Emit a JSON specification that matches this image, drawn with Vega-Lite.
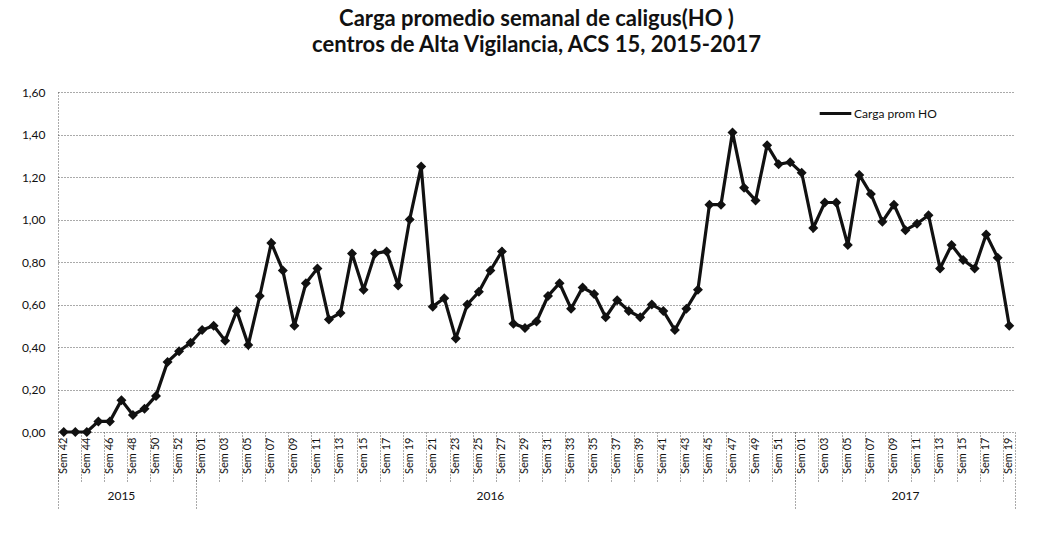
{
  "$schema": "https://vega.github.io/schema/vega-lite/v6.json",
  "autosize": "none",
  "width": 957,
  "height": 340,
  "padding": {"left": 58, "top": 92, "right": 42, "bottom": 118},
  "background": "white",
  "config": {"font": "Lato", "view": {"stroke": null}},
  "title": {
    "text": ["Carga promedio semanal de caligus(HO )", "centros de Alta Vigilancia, ACS 15, 2015-2017"],
    "font": "Lato", "fontSize": 22, "fontWeight": "bold", "color": "#111",
    "anchor": "middle", "frame": "group", "offset": 29, "lineHeight": 26
  },
  "data": {"values": [
    {"key": "2015-42", "value": 0.00}, {"key": "2015-43", "value": 0.00}, {"key": "2015-44", "value": 0.00},
    {"key": "2015-45", "value": 0.05}, {"key": "2015-46", "value": 0.05}, {"key": "2015-47", "value": 0.15},
    {"key": "2015-48", "value": 0.08}, {"key": "2015-49", "value": 0.11}, {"key": "2015-50", "value": 0.17},
    {"key": "2015-51", "value": 0.33}, {"key": "2015-52", "value": 0.38}, {"key": "2015-53", "value": 0.42},
    {"key": "2016-01", "value": 0.48}, {"key": "2016-02", "value": 0.50}, {"key": "2016-03", "value": 0.43},
    {"key": "2016-04", "value": 0.57}, {"key": "2016-05", "value": 0.41}, {"key": "2016-06", "value": 0.64},
    {"key": "2016-07", "value": 0.89}, {"key": "2016-08", "value": 0.76}, {"key": "2016-09", "value": 0.50},
    {"key": "2016-10", "value": 0.70}, {"key": "2016-11", "value": 0.77}, {"key": "2016-12", "value": 0.53},
    {"key": "2016-13", "value": 0.56}, {"key": "2016-14", "value": 0.84}, {"key": "2016-15", "value": 0.67},
    {"key": "2016-16", "value": 0.84}, {"key": "2016-17", "value": 0.85}, {"key": "2016-18", "value": 0.69},
    {"key": "2016-19", "value": 1.00}, {"key": "2016-20", "value": 1.25}, {"key": "2016-21", "value": 0.59},
    {"key": "2016-22", "value": 0.63}, {"key": "2016-23", "value": 0.44}, {"key": "2016-24", "value": 0.60},
    {"key": "2016-25", "value": 0.66}, {"key": "2016-26", "value": 0.76}, {"key": "2016-27", "value": 0.85},
    {"key": "2016-28", "value": 0.51}, {"key": "2016-29", "value": 0.49}, {"key": "2016-30", "value": 0.52},
    {"key": "2016-31", "value": 0.64}, {"key": "2016-32", "value": 0.70}, {"key": "2016-33", "value": 0.58},
    {"key": "2016-34", "value": 0.68}, {"key": "2016-35", "value": 0.65}, {"key": "2016-36", "value": 0.54},
    {"key": "2016-37", "value": 0.62}, {"key": "2016-38", "value": 0.57}, {"key": "2016-39", "value": 0.54},
    {"key": "2016-40", "value": 0.60}, {"key": "2016-41", "value": 0.57}, {"key": "2016-42", "value": 0.48},
    {"key": "2016-43", "value": 0.58}, {"key": "2016-44", "value": 0.67}, {"key": "2016-45", "value": 1.07},
    {"key": "2016-46", "value": 1.07}, {"key": "2016-47", "value": 1.41}, {"key": "2016-48", "value": 1.15},
    {"key": "2016-49", "value": 1.09}, {"key": "2016-50", "value": 1.35}, {"key": "2016-51", "value": 1.26},
    {"key": "2016-52", "value": 1.27},
    {"key": "2017-01", "value": 1.22}, {"key": "2017-02", "value": 0.96}, {"key": "2017-03", "value": 1.08},
    {"key": "2017-04", "value": 1.08}, {"key": "2017-05", "value": 0.88}, {"key": "2017-06", "value": 1.21},
    {"key": "2017-07", "value": 1.12}, {"key": "2017-08", "value": 0.99}, {"key": "2017-09", "value": 1.07},
    {"key": "2017-10", "value": 0.95}, {"key": "2017-11", "value": 0.98}, {"key": "2017-12", "value": 1.02},
    {"key": "2017-13", "value": 0.77}, {"key": "2017-14", "value": 0.88}, {"key": "2017-15", "value": 0.81},
    {"key": "2017-16", "value": 0.77}, {"key": "2017-17", "value": 0.93}, {"key": "2017-18", "value": 0.82},
    {"key": "2017-19", "value": 0.50}
  ]},
  "layer": [
    {
      "mark": {"type": "line", "strokeWidth": 3.2},
      "encoding": {
        "x": {
          "field": "key", "type": "ordinal", "bandPosition": 0.5,
          "scale": {"type": "band", "paddingInner": 0, "paddingOuter": 0},
          "axis": {
            "orient": "bottom", "title": null, "domain": false, "grid": false, "ticks": false,
            "values": ["2015-42","2015-44","2015-46","2015-48","2015-50","2015-52",
              "2016-01","2016-03","2016-05","2016-07","2016-09","2016-11","2016-13","2016-15","2016-17","2016-19","2016-21","2016-23","2016-25","2016-27","2016-29","2016-31","2016-33","2016-35","2016-37","2016-39","2016-41","2016-43","2016-45","2016-47","2016-49","2016-51",
              "2017-01","2017-03","2017-05","2017-07","2017-09","2017-11","2017-13","2017-15","2017-17","2017-19"],
            "labelExpr": "isString(datum.value) && indexof(datum.value, '-') > 0 ? 'Sem ' + split(datum.value, '-')[1] : ''",
            "labelAngle": -90, "labelAlign": "right", "labelBaseline": "middle",
            "labelPadding": 5, "labelFontSize": 11, "labelColor": "#111", "labelOverlap": false
          }
        },
        "y": {
          "field": "value", "type": "quantitative",
          "scale": {"domain": [0, 1.6], "nice": false},
          "axis": {
            "title": null, "values": [0, 0.2, 0.4, 0.6, 0.8, 1.0, 1.2, 1.4, 1.6],
            "labelExpr": "replace(format(datum.value, '.2f'), '.', ',')",
            "labelFontSize": 12, "labelColor": "#111", "labelPadding": 13,
            "ticks": false, "domain": true, "domainColor": "#555", "domainDash": [1, 2],
            "grid": true, "gridColor": "#555", "gridDash": [1, 2], "gridWidth": 1
          }
        },
        "color": {
          "datum": "Carga prom HO",
          "scale": {"range": ["#111"]},
          "legend": {
            "title": null, "orient": "none", "legendX": 760, "legendY": 4,
            "symbolType": "stroke", "symbolStrokeWidth": 3, "symbolSize": 1000,
            "labelFontSize": 12, "labelColor": "#111", "labelOffset": 1
          }
        }
      }
    },
    {
      "mark": {"type": "point", "shape": "diamond", "filled": true, "size": 100, "color": "#111", "opacity": 1},
      "encoding": {
        "x": {"field": "key", "type": "ordinal", "bandPosition": 0.5, "axis": null},
        "y": {"field": "value", "type": "quantitative"}
      }
    },
    {
      "mark": {"type": "point", "opacity": 0},
      "encoding": {
        "x": {
          "field": "key", "type": "ordinal", "bandPosition": 0.5,
          "axis": {
            "orient": "bottom", "title": null, "domain": false, "ticks": false, "grid": false,
            "values": ["2015-47", "2016-26", "2017-10"],
            "labelExpr": "isString(datum.value) ? split(datum.value, '-')[0] : ''",
            "labelAngle": 0, "labelDx": 4, "labelPadding": 0, "offset": 58,
            "labelFontSize": 12, "labelColor": "#111"
          }
        },
        "y": {"field": "value", "type": "quantitative"}
      }
    },
    {
      "mark": {"type": "point", "opacity": 0},
      "encoding": {
        "x": {
          "field": "key", "type": "ordinal", "bandPosition": 0.5,
          "axis": {
            "orient": "bottom", "title": null, "domain": false, "labels": false, "grid": false,
            "values": ["2015-42","2015-44","2015-46","2015-48","2015-50","2015-52",
              "2016-01","2016-03","2016-05","2016-07","2016-09","2016-11","2016-13","2016-15","2016-17","2016-19","2016-21","2016-23","2016-25","2016-27","2016-29","2016-31","2016-33","2016-35","2016-37","2016-39","2016-41","2016-43","2016-45","2016-47","2016-49","2016-51",
              "2017-01","2017-03","2017-05","2017-07","2017-09","2017-11","2017-13","2017-15","2017-17","2017-19"],
            "bandPosition": 0,
            "tickSize": 50, "tickDash": [1, 2], "tickColor": "#555", "tickWidth": 1
          }
        },
        "y": {"field": "value", "type": "quantitative"}
      }
    },
    {
      "mark": {"type": "point", "opacity": 0},
      "encoding": {
        "x": {
          "field": "key", "type": "ordinal", "bandPosition": 0.5,
          "axis": {
            "orient": "bottom", "title": null, "domain": false, "labels": false, "grid": false,
            "values": ["2015-42", "2016-01", "2017-01"],
            "bandPosition": 0,
            "tickSize": 78, "tickDash": [1, 2], "tickColor": "#555", "tickWidth": 1
          }
        },
        "y": {"field": "value", "type": "quantitative"}
      }
    },
    {
      "mark": {"type": "point", "opacity": 0},
      "encoding": {
        "x": {
          "field": "key", "type": "ordinal", "bandPosition": 0.5,
          "axis": {
            "orient": "bottom", "title": null, "domain": false, "labels": false, "grid": false,
            "values": ["2017-19"],
            "bandPosition": 1,
            "tickSize": 78, "tickDash": [1, 2], "tickColor": "#555", "tickWidth": 1
          }
        },
        "y": {"field": "value", "type": "quantitative"}
      }
    }
  ],
  "resolve": {"axis": {"x": "independent"}}
}
